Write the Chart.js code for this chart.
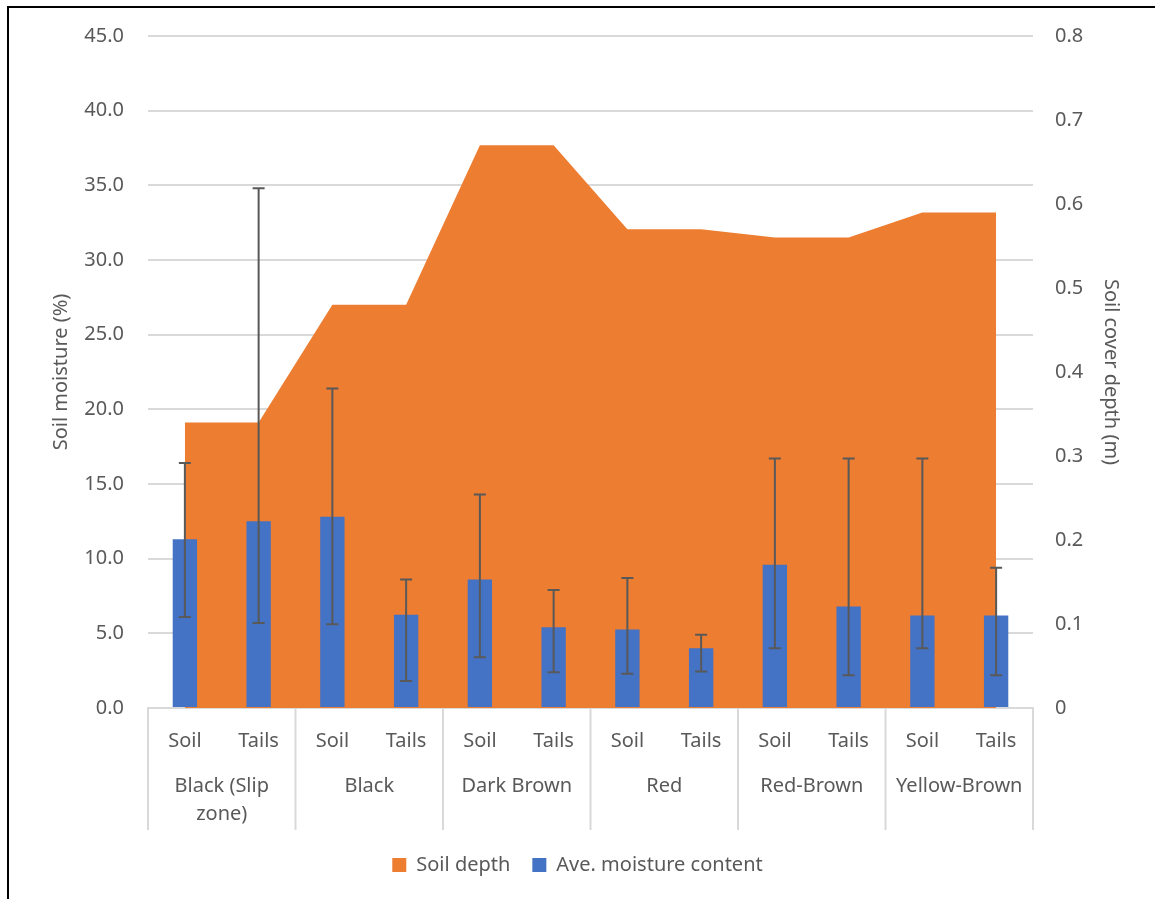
<!DOCTYPE html>
<html>
<head>
<meta charset="utf-8">
<script src="https://cdn.jsdelivr.net/npm/chart.js@4.4.1/dist/chart.umd.min.js"></script>
<style>
  html, body { margin: 0; padding: 0; background: #fff; }
  #wrap { position: relative; width: 1155px; height: 899px; }
  #frame { position: absolute; left: 7px; top: 6px; right: -10px; bottom: -10px; border-left: 2px solid #000; border-top: 2px solid #000; pointer-events: none; }
</style>
</head>
<body>
<div id="wrap">
  <canvas id="grafico"></canvas>
  <div id="frame"></div>
</div>
<script>
// dados
const categorias = ["Soil", "Tails", "Soil", "Tails", "Soil", "Tails", "Soil", "Tails", "Soil", "Tails", "Soil", "Tails"]
const grupos = ["Black (Slip zone)", "Black", "Dark Brown", "Red", "Red-Brown", "Yellow-Brown"]
const profundidade = [0.34, 0.34, 0.48, 0.48, 0.67, 0.67, 0.57, 0.57, 0.56, 0.56, 0.59, 0.59]
const umidade = [11.3, 12.5, 12.8, 6.25, 8.6, 5.4, 5.25, 4.0, 9.6, 6.8, 6.2, 6.2]
const erroAlto = [16.4, 34.8, 21.4, 8.6, 14.3, 7.9, 8.7, 4.9, 16.7, 16.7, 16.7, 9.4]
const erroBaixo = [6.1, 5.7, 5.6, 1.8, 3.4, 2.4, 2.3, 2.45, 4.0, 2.2, 4.0, 2.2]

const corTexto = "#595959"
const corGrade = "#d9d9d9"
const fonte = "'Noto Sans', sans-serif"
const tamanho = 20

const pluginErros = {
  id: "barrasErro",
  afterDatasetsDraw(chart) {
    const meta = chart.getDatasetMeta(1)
    const y = chart.scales.y
    const ctx = chart.ctx
    ctx.save()
    ctx.strokeStyle = "#595959"
    ctx.lineWidth = 2
    meta.data.forEach((barra, i) => {
      const yAlto = y.getPixelForValue(erroAlto[i])
      const yBaixo = y.getPixelForValue(erroBaixo[i])
      ctx.beginPath()
      ctx.moveTo(barra.x, yAlto)
      ctx.lineTo(barra.x, yBaixo)
      ctx.moveTo(barra.x - 6, yAlto)
      ctx.lineTo(barra.x + 6, yAlto)
      ctx.moveTo(barra.x - 6, yBaixo)
      ctx.lineTo(barra.x + 6, yBaixo)
      ctx.stroke()
    })
    ctx.restore()
  },
}

function quebrarTexto(ctx, texto, largura) {
  const palavras = texto.split(" ")
  const linhas = []
  let atual = ""
  for (const p of palavras) {
    const teste = atual ? atual + " " + p : p
    if (ctx.measureText(teste).width > largura && atual) {
      linhas.push(atual)
      atual = p
    } else {
      atual = teste
    }
  }
  if (atual) linhas.push(atual)
  return linhas
}

const pluginGrupos = {
  id: "eixoGrupos",
  afterDraw(chart) {
    const x = chart.scales.x
    const ctx = chart.ctx
    const base = chart.chartArea.bottom
    const porGrupo = categorias.length / grupos.length
    const limites = []
    for (let g = 0; g <= grupos.length; g++) {
      const i = g * porGrupo
      if (g === 0) limites.push(x.left)
      else if (g === grupos.length) limites.push(x.right)
      else limites.push((x.getPixelForValue(i - 1) + x.getPixelForValue(i)) / 2)
    }
    ctx.save()
    ctx.strokeStyle = corGrade
    ctx.lineWidth = 2
    limites.forEach((lx) => {
      ctx.beginPath()
      ctx.moveTo(lx, base)
      ctx.lineTo(lx, base + 122)
      ctx.stroke()
    })
    ctx.fillStyle = corTexto
    ctx.font = tamanho + "px " + fonte
    ctx.textAlign = "center"
    ctx.textBaseline = "middle"
    grupos.forEach((nome, g) => {
      const centro = (limites[g] + limites[g + 1]) / 2
      const linhas = quebrarTexto(ctx, nome, limites[g + 1] - limites[g] - 12)
      linhas.forEach((l, k) => ctx.fillText(l, centro, base + 78 + k * 28))
    })
    ctx.restore()
  },
}

const ctx = document.getElementById("grafico").getContext("2d")
new Chart(ctx, {
  data: {
    labels: categorias,
    datasets: [
      {
        type: "line",
        label: "Soil depth",
        data: profundidade,
        yAxisID: "y1",
        order: 2,
        fill: "origin",
        backgroundColor: "#ED7D31",
        borderColor: "#ED7D31",
        borderWidth: 0,
        pointRadius: 0,
        tension: 0,
      },
      {
        type: "bar",
        label: "Ave. moisture content",
        data: umidade,
        yAxisID: "y",
        order: 1,
        backgroundColor: "#4472C4",
        barPercentage: 0.33,
        categoryPercentage: 1,
      },
    ],
  },
  options: {
    responsive: true,
    maintainAspectRatio: false,
    animation: false,
    layout: { padding: { top: 35, bottom: 14, left: 0, right: 0 } },
    plugins: {
      tooltip: { enabled: false },
      legend: {
        position: "bottom",
        labels: {
          color: corTexto,
          font: { family: fonte, size: tamanho },
          boxWidth: 14,
          boxHeight: 14,
          padding: 22,
          sort: (a, b) => a.datasetIndex - b.datasetIndex,
        },
      },
    },
    scales: {
      x: {
        offset: true,
        grid: { display: false },
        border: { color: corGrade, width: 2 },
        ticks: { color: corTexto, font: { family: fonte, size: tamanho }, padding: 13, maxRotation: 0, autoSkip: false },
        afterFit: (s) => { s.height = 125 },
      },
      y: {
        position: "left",
        min: 0,
        max: 45,
        ticks: { stepSize: 5, color: corTexto, font: { family: fonte, size: tamanho }, padding: 24, callback: (v) => v.toFixed(1) },
        grid: { color: corGrade, lineWidth: 2, drawTicks: false },
        border: { display: false },
        title: { display: true, text: "Soil moisture (%)", color: corTexto, font: { family: fonte, size: tamanho }, padding: { top: 49 } },
        afterFit: (s) => { s.width = 148 },
      },
      y1: {
        position: "right",
        min: 0,
        max: 0.8,
        ticks: { stepSize: 0.1, color: corTexto, font: { family: fonte, size: tamanho }, padding: 22, callback: (v) => (v === 0 ? "0" : v.toFixed(1)) },
        grid: { display: false, drawTicks: false },
        border: { display: false },
        title: { display: true, text: "Soil cover depth (m)", color: corTexto, font: { family: fonte, size: tamanho }, padding: { top: 32 } },
        afterFit: (s) => { s.width = 122 },
      },
    },
  },
  plugins: [pluginErros, pluginGrupos],
})
</script>
</body>
</html>
